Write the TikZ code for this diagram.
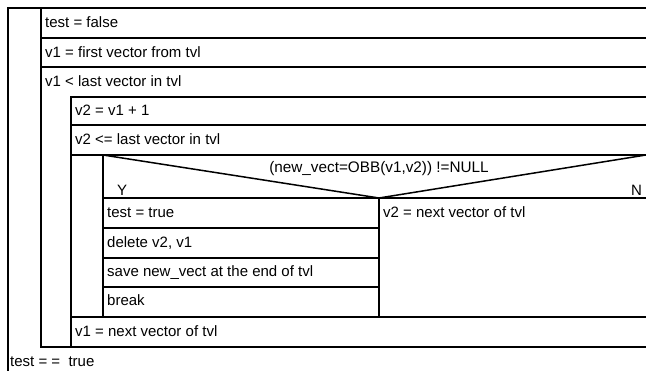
\documentclass[tikz,border=0pt]{standalone}
\usepackage{fontspec}
\setmainfont{Liberation Sans}
\begin{document}
\begin{tikzpicture}[x=1pt,y=-1pt,
  ln/.style={line width=1.5pt, line cap=rect},
  txt/.style={anchor=base west, inner sep=0pt, font=\fontsize{15}{17}\selectfont},
  ctxt/.style={anchor=base, inner sep=0pt, font=\fontsize{15.3}{17}\selectfont}]
\useasboundingbox (0,0) rectangle (646,371);
% outer structure
\draw[ln] (646,8) -- (8,8) -- (8,371);
\draw[ln] (41,8) -- (41,347);
\draw[ln] (41,38) -- (646,38);
\draw[ln] (41,67) -- (646,67);
\draw[ln] (71,97) -- (646,97);
\draw[ln] (71,97) -- (71,347);
\draw[ln] (71,125) -- (646,125);
\draw[ln] (71,155) -- (646,155);
\draw[ln] (71,317) -- (646,317);
\draw[ln] (41,347) -- (646,347);
% decision
\draw[ln] (103,155) -- (103,317);
\draw[ln] (103,198) -- (646,198);
\draw[ln] (103,155) -- (379,198) -- (646,155);
\draw[ln] (379,198) -- (379,317);
\draw[ln] (103,228) -- (379,228);
\draw[ln] (103,258) -- (379,258);
\draw[ln] (103,287) -- (379,287);
% texts
\node[txt] (t1) at (45,28) {test = false};
\node[txt] (t2) at (45,58) {v1 = first vector from tvl};
\node[txt] (t3) at (45,87) {v1 < last vector in tvl};
\node[txt] (t4) at (75,116) {v2 = v1 + 1};
\node[txt] (t5) at (75,145) {v2 <= last vector in tvl};
\node[ctxt] (cond) at (379,173) {(new\_vect=OBB(v1,v2)) !=NULL};
\node[txt] (y) at (117,196) {Y};
\node[txt] (n) at (631,196) {N};
\node[txt] (t6) at (107,218) {test = true};
\node[txt] (t7) at (107,248) {delete v2, v1};
\node[txt] (t8) at (107,277) {save new\_vect at the end of tvl};
\node[txt] (t9) at (107,306) {break};
\node[txt] (t10) at (383,218) {v2 = next vector of tvl};
\node[txt] (t11) at (75,337) {v1 = next vector of tvl};
\node[txt] (t12) at (10,367) {test = =~~true};
\end{tikzpicture}
\end{document}
